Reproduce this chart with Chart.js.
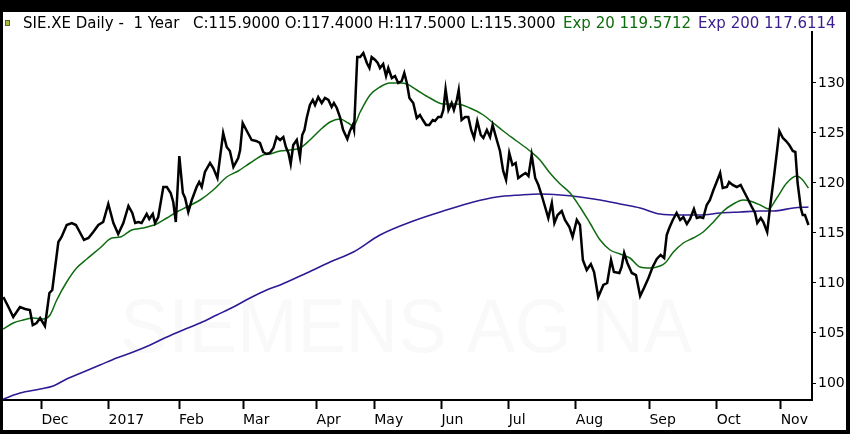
<!DOCTYPE html>
<html>
<head>
<meta charset="utf-8">
<title>SIE.XE Daily</title>
<script src="https://cdn.jsdelivr.net/npm/chart.js@4.4.0/dist/chart.umd.min.js"></script>
<style>
  html, body { margin: 0; padding: 0; background: #000; }
  body { width: 850px; height: 434px; position: relative; overflow: hidden; font-family: "DejaVu Sans", sans-serif; }
  .frame { position: absolute; left: 3px; top: 12px; width: 843px; height: 418px; background: #fff; }
  #chart { position: absolute; left: 0; top: 0; }
  .hdr { position: absolute; top: 14px; font-size: 15px; line-height: 18px; white-space: pre; color: #000; }
  .green { color: #0f6b0f; }
  .purple { color: #3a1d8e; }
  .icon { position: absolute; left: 5px; top: 20px; width: 3px; height: 4px; background: #a9bb3a; border: 1px solid #59632a; }
</style>
</head>
<body>
<div class="frame"></div>
<canvas id="chart" width="850" height="434"></canvas>
<div class="icon"></div>
<div id="header"></div>

<script>
// header values
const ticker = 'SIE.XE Daily -';
const period = '1 Year';
const lastOpen = 117.4, lastHigh = 117.5, lastLow = 115.3, lastClose = 115.9;
const ema20Last = 119.5712, ema200Last = 117.6114;

// x axis: trading-day index, month ticks
const monthDays = [12, 33, 55, 75, 98, 116, 137, 158, 179, 202, 223, 243];
const monthLabels = ['Dec', '2017', 'Feb', 'Mar', 'Apr', 'May', 'Jun', 'Jul', 'Aug', 'Sep', 'Oct', 'Nov'];
const yTicks = [100, 105, 110, 115, 120, 125, 130];

// daily close, [day, price]
const closePts = [
  [0.1,108.6],[1.7,107.6],[3.2,106.6],[5.3,107.6],[6.9,107.4],[8.4,107.3],[9.3,105.8],[10.5,106.0],
  [11.6,106.5],[13.1,105.7],[14.5,109.0],[15.4,109.3],[16.3,111.6],[17.3,114.1],[18.3,114.6],[19.9,115.8],
  [21.5,116.0],[22.8,115.8],[25.3,114.3],[26.7,114.5],[28.2,115.1],[29.8,115.8],[31.3,116.1],[32.9,117.9],
  [34.5,116.0],[36.0,114.9],[37.6,116.0],[39.2,117.7],[40.4,117.0],[41.3,116.0],[42.3,116.1],[43.3,116.0],
  [44.9,116.9],[45.7,116.4],[46.8,116.9],[47.5,116.0],[48.5,116.6],[50.1,119.6],[51.2,119.6],[52.4,119.0],
  [53.2,118.1],[54.0,116.1],[55.1,122.7],[56.2,119.0],[56.9,118.5],[57.9,117.1],[59.0,118.3],[60.5,119.6],
  [61.3,120.1],[62.1,119.6],[63.1,121.1],[64.7,122.0],[65.7,121.5],[67.0,120.5],[68.8,125.0],[69.9,123.6],
  [70.9,123.2],[72.0,121.6],[73.5,122.5],[74.1,123.3],[74.9,126.0],[76.2,125.2],[77.7,124.3],[79.1,124.2],
  [80.3,124.0],[81.3,123.1],[82.4,122.9],[83.4,123.0],[84.5,123.5],[85.5,124.6],[86.6,124.3],[87.6,124.6],
  [88.4,123.6],[89.2,123.0],[89.9,121.9],[90.7,123.8],[91.8,124.3],[92.8,122.6],[93.5,124.8],[94.2,125.3],
  [94.9,126.5],[95.9,127.8],[96.8,128.3],[97.5,127.8],[98.5,128.6],[99.6,128.0],[100.6,128.5],[101.7,128.3],
  [102.7,127.6],[103.4,128.0],[104.3,127.5],[105.3,126.6],[106.3,125.3],[107.6,124.4],[108.4,125.2],[109.3,125.8],
  [109.7,125.3],[110.7,132.6],[111.6,132.6],[112.6,133.0],[113.7,132.0],[114.5,131.5],[115.2,132.6],[116.3,132.3],
  [117.1,132.0],[117.8,131.5],[118.8,131.9],[119.7,130.7],[120.4,131.5],[121.5,130.5],[122.5,130.7],[123.5,130.0],
  [124.6,130.2],[125.4,131.0],[126.2,130.0],[127.0,128.5],[128.2,128.0],[129.3,126.5],[130.3,126.8],[131.2,126.3],
  [132.2,125.8],[133.2,125.8],[134.3,126.3],[135.0,126.2],[136.0,126.6],[136.9,126.6],[137.6,127.3],[138.3,129.4],
  [139.2,127.3],[140.2,128.0],[140.9,127.3],[141.8,128.3],[142.4,129.3],[143.3,126.3],[144.4,126.6],[145.4,126.6],
  [146.3,125.3],[147.2,124.5],[148.2,126.2],[149.3,124.8],[150.1,124.5],[151.2,125.3],[152.2,124.6],[153.0,125.8],
  [154.3,124.3],[155.3,123.2],[156.3,121.2],[157.2,120.3],[158.2,123.0],[159.2,121.8],[160.2,122.0],[161.0,120.5],
  [162.3,120.8],[163.3,121.0],[164.2,120.7],[165.2,122.8],[166.3,120.5],[167.3,119.8],[168.3,118.8],[169.4,117.6],
  [170.4,116.5],[171.5,118.0],[172.3,116.0],[173.3,116.8],[174.6,117.2],[175.6,116.3],[177.0,115.6],[178.0,114.6],
  [179.3,116.3],[180.3,115.8],[181.2,112.3],[182.4,111.3],[183.7,111.9],[184.7,111.1],[186.0,108.6],[187.6,109.8],
  [188.8,110.0],[190.0,112.3],[190.9,111.1],[192.6,111.0],[193.3,111.6],[194.1,113.0],[195.1,112.0],[196.5,111.0],
  [197.8,110.8],[199.1,108.7],[200.3,109.5],[201.7,110.5],[203.0,111.6],[204.3,112.4],[205.5,112.8],[206.6,112.5],
  [207.4,114.8],[208.2,115.5],[209.3,116.3],[210.5,117.0],[211.6,116.3],[212.6,116.6],[213.7,115.9],[214.7,116.4],
  [215.9,117.4],[216.8,116.5],[217.8,116.6],[218.8,116.5],[219.9,117.8],[220.9,118.3],[222.0,119.3],[223.0,120.1],
  [224.1,121.0],[224.9,119.5],[226.2,119.6],[226.9,120.1],[228.0,119.8],[229.3,119.6],[230.5,119.8],[231.3,119.3],
  [232.6,118.5],[234.0,117.6],[235.0,117.0],[235.7,116.0],[236.8,116.5],[237.6,116.1],[238.8,115.1],[239.7,117.6],
  [240.9,120.6],[241.8,123.0],[242.6,125.2],[243.7,124.5],[244.7,124.2],[245.7,123.8],[246.8,123.2],[247.6,123.1],
  [248.3,120.0],[249.3,117.5],[249.9,116.8],[250.6,116.8],[251.7,115.8]
];

// Exp 20 (green)
const ema20Pts = [
  [0.1,105.4],[3.2,106.0],[6.3,106.3],[9.5,106.5],[12.6,106.4],[14.7,106.8],[16.8,108.3],[19.9,110.1],
  [23.0,111.5],[26.2,112.4],[30.3,113.5],[34.0,114.5],[36.6,114.6],[40.2,115.3],[43.8,115.5],[48.0,115.9],
  [51.2,116.5],[54.3,117.1],[57.4,117.6],[61.6,118.3],[65.7,119.3],[69.9,120.6],[73.5,121.2],[77.2,122.0],
  [81.3,122.8],[83.4,122.9],[86.6,123.2],[89.7,123.3],[92.8,123.5],[95.9,124.3],[99.1,125.3],[102.2,126.1],
  [105.3,126.4],[107.9,126.0],[109.5,125.7],[111.6,127.1],[114.7,128.8],[117.8,129.6],[120.9,130.0],[124.1,130.0],
  [126.2,129.9],[129.3,129.3],[133.4,128.5],[137.6,127.9],[141.8,127.9],[145.9,127.5],[150.1,126.8],[153.2,126.0],
  [156.3,125.2],[160.5,124.2],[164.7,123.2],[167.8,122.3],[170.9,121.0],[174.1,119.9],[177.2,119.0],[180.3,117.6],
  [183.4,116.0],[186.6,114.3],[189.7,113.3],[192.8,112.9],[195.9,112.5],[199.1,111.6],[202.2,111.5],[205.3,111.7],
  [206.9,112.0],[209.5,113.1],[212.6,114.0],[215.7,114.5],[218.8,115.1],[222.0,116.1],[225.1,117.2],[228.2,117.9],
  [231.3,118.3],[233.4,118.2],[236.6,117.8],[239.2,117.4],[241.8,118.5],[244.9,120.0],[248.0,120.7],[249.6,120.4],
  [251.7,119.5]
];

// Exp 200 (purple)
const ema200Pts = [
  [0.1,98.4],[5.3,99.0],[11.6,99.4],[15.7,99.7],[19.9,100.4],[25.1,101.1],[30.3,101.8],[35.5,102.5],
  [40.7,103.1],[46.0,103.8],[51.2,104.6],[56.3,105.3],[61.6,106.0],[66.8,106.8],[72.0,107.6],[77.2,108.5],
  [82.4,109.3],[86.6,109.8],[94.9,111.0],[102.2,112.1],[109.5,113.1],[117.8,114.8],[128.2,116.2],[138.6,117.3],
  [147.0,118.1],[154.3,118.6],[161.6,118.8],[167.8,118.9],[174.1,118.8],[180.3,118.6],[186.6,118.3],[192.8,117.9],
  [199.1,117.5],[205.3,116.9],[211.6,116.8],[217.8,116.8],[224.1,117.0],[230.3,117.1],[236.6,117.2],[240.7,117.2],
  [247.0,117.5],[251.7,117.6]
];

const green = '#0f6b0f';
const purple = '#2f1a94';
const f4 = v => v.toFixed(4);

// header line, one group per anchor
const header = document.getElementById('header');
[
  [23, ticker + '  ' + period, ''],
  [193, ['C:' + f4(lastClose), 'O:' + f4(lastOpen), 'H:' + f4(lastHigh), 'L:' + f4(lastLow)].join(' '), ''],
  [563, 'Exp 20 ' + f4(ema20Last), 'green'],
  [698, 'Exp 200 ' + f4(ema200Last), 'purple']
].forEach(([x, txt, cls]) => {
  const s = document.createElement('div');
  s.className = 'hdr ' + cls;
  s.style.left = x + 'px';
  s.textContent = txt;
  header.appendChild(s);
});

const toXY = pts => pts.map(([x, y]) => ({ x, y }));

const watermark = {
  id: 'watermark',
  beforeDatasetsDraw(chart) {
    const { ctx, scales } = chart;
    const text = 'SIEMENS AG NA';
    ctx.save();
    ctx.font = '76px "Liberation Sans", sans-serif';
    ctx.fillStyle = '#f9f9f9';
    ctx.textAlign = 'center';
    ctx.textBaseline = 'middle';
    const w = ctx.measureText(text).width;
    ctx.translate(scales.x.getPixelForValue(126), scales.y.getPixelForValue(105.2));
    ctx.scale(572 / w, 1);
    ctx.fillText(text, 0, 0);
    ctx.restore();
  }
};

new Chart(document.getElementById('chart'), {
  type: 'line',
  data: {
    datasets: [
      { label: 'SIE.XE', data: toXY(closePts), borderColor: '#000', borderWidth: 2.5, pointRadius: 0, tension: 0 },
      { label: 'Exp 20', data: toXY(ema20Pts), borderColor: green, borderWidth: 1.5, pointRadius: 0, cubicInterpolationMode: 'monotone' },
      { label: 'Exp 200', data: toXY(ema200Pts), borderColor: purple, borderWidth: 1.6, pointRadius: 0, cubicInterpolationMode: 'monotone' }
    ]
  },
  options: {
    responsive: false,
    animation: false,
    layout: { padding: { left: 3, top: 32, right: 0, bottom: 0 } },
    plugins: { legend: { display: false }, tooltip: { enabled: false } },
    scales: {
      x: {
        type: 'linear',
        position: 'bottom',
        min: 0,
        max: 252.8,
        afterBuildTicks: s => { s.ticks = monthDays.map(v => ({ value: v })); },
        afterFit: s => { s.height = 34; },
        grid: { drawOnChartArea: false, drawTicks: true, tickLength: 9, tickWidth: 2, tickColor: '#000' },
        border: { display: true, color: '#000', width: 2 },
        ticks: {
          autoSkip: false,
          maxRotation: 0,
          align: 'start',
          padding: 3,
          color: '#000',
          font: { family: '"DejaVu Sans"', size: 14 },
          callback: (v, i) => monthLabels[i]
        }
      },
      y: {
        type: 'linear',
        position: 'right',
        min: 98.3,
        max: 135.1,
        afterBuildTicks: s => { s.ticks = yTicks.map(v => ({ value: v })); },
        afterFit: s => { s.width = 38; },
        grid: { drawOnChartArea: false, drawTicks: true, tickLength: 4, tickWidth: 1, tickColor: '#000' },
        border: { display: true, color: '#000', width: 2 },
        ticks: {
          padding: 2,
          color: '#000',
          font: { family: '"DejaVu Sans"', size: 14 },
          callback: v => String(v)
        }
      }
    }
  },
  plugins: [watermark]
});
</script>
</body>
</html>
